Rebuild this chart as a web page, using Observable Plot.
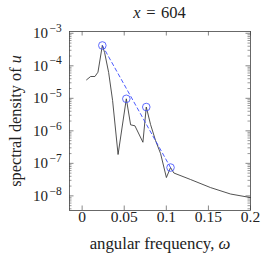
<!DOCTYPE html>
<html><head><meta charset="utf-8">
<script src="https://cdn.jsdelivr.net/npm/d3@7"></script>
<script src="https://cdn.jsdelivr.net/npm/@observablehq/plot@0.6"></script>
<style>
body{margin:0;background:#fff;}
#title{width:266px;height:22px;text-align:center;font-family:"Liberation Serif",serif;font-size:16.5px;line-height:25px;padding-left:53px;box-sizing:border-box;color:#222;}
</style></head><body>
<div id="title"><i>x</i>&#8196;=&#8196;604</div>
<div id="chart"></div>
<script>
const omega = [0.0053,0.0101,0.0152,0.0188,0.0240,0.0267,0.0315,0.0362,0.0427,0.0525,0.0576,0.0627,0.0722,0.0762,0.0813,0.0872,0.0932,0.1001,0.1050,0.1090,0.1288,0.1525,0.1763,0.2000];
const density = [3.71e-5,4.69e-5,4.69e-5,6.35e-5,4.22e-4,2.56e-4,6.22e-5,8.55e-6,1.87e-7,9.66e-6,1.53e-6,1.43e-6,4.46e-7,5.40e-6,1.56e-6,5.04e-7,2.00e-7,3.66e-8,7.43e-8,5.04e-8,3.18e-8,1.80e-8,1.14e-8,8.87e-9];
const peakOmega = [0.0240,0.0525,0.0762,0.1050];
const peakDensity = [4.22e-4,9.66e-6,5.40e-6,7.43e-8];
const xTicks = [0,0.05,0.1,0.15,0.2];
const xTickLabels = ["0","0.05","0.1","0.15","0.2"];
const yExponents = [-8,-7,-6,-5,-4,-3];

const W=266,H=237,mL=69,mR=16,mT=9,mB=49;
const fw=W-mL-mR, fh=H-mT-mB;
const lineData = omega.map((w,i)=>({w, d:density[i]}));
const peaks = peakOmega.map((w,i)=>({w, d:peakDensity[i]}));
const dash = [peaks[0], peaks[peaks.length-1]];
const yMajor = yExponents.map(e=>({v:10**e, e}));
const yMinor = [];
for (let e=-9;e<=-3;e++) for (let m=2;m<=9;m++) { const v=m*10**e; if (v>10**-8.45 && v<10**-2.945) yMinor.push(v); }
const xt = xTicks.map((v,i)=>({v, label:xTickLabels[i]}));
const ink="#333", tickC="#555", blue="#3848ff";

const chart = Plot.plot({
  width:W, height:H, marginLeft:mL, marginRight:mR, marginTop:mT, marginBottom:mB,
  style:{fontFamily:"'Liberation Serif', serif", fontSize:"14px", background:"white", color:"#222", overflow:"visible"},
  x:{domain:[-0.015,0.2], axis:null},
  y:{type:"log", domain:[10**-8.45, 10**-2.945], axis:null},
  marks:[
    Plot.tickY(yMinor,{y:d=>d, insetRight:fw-2.5, stroke:tickC, strokeWidth:0.6}),
    Plot.tickY(yMinor,{y:d=>d, insetLeft:fw-2.5, stroke:tickC, strokeWidth:0.6}),
    Plot.tickY(yMajor,{y:"v", insetRight:fw-4.5, stroke:tickC, strokeWidth:0.7}),
    Plot.tickY(yMajor,{y:"v", insetLeft:fw-4.5, stroke:tickC, strokeWidth:0.7}),
    Plot.tickX(xt,{x:"v", insetTop:fh-4.5, stroke:tickC, strokeWidth:0.7}),
    Plot.tickX(xt,{x:"v", insetBottom:fh-4.5, stroke:tickC, strokeWidth:0.7}),
    Plot.frame({stroke:"#444", strokeWidth:0.8}),
    Plot.line(lineData,{x:"w", y:"d", stroke:ink, strokeWidth:0.85}),
    Plot.line(dash,{x:"w", y:"d", stroke:blue, strokeWidth:0.9, strokeDasharray:"3.5,3"}),
    Plot.dot(peaks,{x:"w", y:"d", r:3.8, stroke:blue, fill:"none", strokeWidth:0.8}),
    Plot.text(xt,{x:"v", text:"label", frameAnchor:"bottom", dy:11.5, fontSize:15.5}),
    Plot.text(yMajor,{y:"v", text:()=>"10", frameAnchor:"left", textAnchor:"end", dx:-21.5, fontSize:15}),
    Plot.text(yMajor,{y:"v", text:d=>"\u2212"+Math.abs(d.e), frameAnchor:"left", textAnchor:"start", dx:-20, dy:-5, fontSize:11.5, letterSpacing:"1px"}),
    Plot.text(["angular frequency, \u03c9"],{frameAnchor:"bottom", dy:38.5, fontSize:16.8, className:"xlab"}),
    Plot.text(["spectral density of u"],{frameAnchor:"left", textAnchor:"middle", rotate:-90, dx:-53.5, fontSize:16.3, className:"ylab"})
  ]
});
document.getElementById("chart").appendChild(chart);
d3.select(chart).selectAll(".xlab text").html("angular frequency, <tspan font-style='italic'>\u03c9</tspan>");
d3.select(chart).selectAll(".ylab text").html("spectral density of <tspan font-style='italic'>u</tspan>");
</script>
</body></html>
